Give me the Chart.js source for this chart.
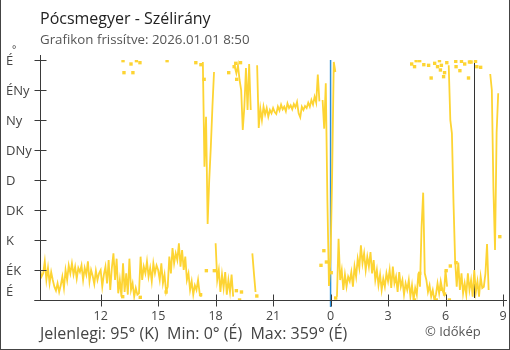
<!DOCTYPE html>
<html>
<head>
<meta charset="utf-8">
<script src="https://cdn.jsdelivr.net/npm/chart.js@4.4.1/dist/chart.umd.min.js"></script>
<style>
    html, body { margin: 0; padding: 0; background: #fff; }
    #wrap { position: relative; width: 510px; height: 350px; overflow: hidden; font-family: 'Open Sans', sans-serif; }
    #frame { position: absolute; left: 0; top: 0; width: 510px; height: 350px; box-sizing: border-box;
             border: 1px solid #444; border-top: none; pointer-events: none; }
    #chart { position: absolute; left: 0; top: 0; }
    .txt { position: absolute; white-space: pre; line-height: 1; }
    #title { left: 40px; top: 10px; font-size: 16px; color: #222; }
    #sub { left: 40px; top: 33px; font-size: 13.3px; color: #555; }
    #stats { left: 40px; top: 325px; font-size: 16px; color: #444; }
    #copy { left: 425px; top: 325px; font-size: 13px; color: #555; }
</style>
</head>
<body>
<div id="wrap">
    <canvas id="chart" width="510" height="350"></canvas>
    <div class="txt" id="title">Pócsmegyer - Szélirány</div>
    <div class="txt" id="sub">Grafikon frissítve: 2026.01.01 8:50</div>
    <div class="txt" id="stats">Jelenlegi: 95° (K)  Min: 0° (É)  Max: 359° (É)</div>
    <div class="txt" id="copy">© Időkép</div>
    <div id="frame"></div>
</div>
<script>
// szélirány, 5 percenként, fokban (8:50-től 8:50-ig)
const firstReading = '8:50';
const stepMinutes = 5;

const dirPrevMorning = [45, 35,
    40, 58, 30, 48, 25, 42, 30, 20, 14, 25, 12, 22,
    35, 18, 45, 30, 52, 40, 55, 38, 50, 32, 48, 42,
    52, 30, 48, 38, 58, 28, 45, 36, 24, 44, 30, 40];

const dirAfternoon = [
    45, 20, 38, 50, 25, 60, 15, 48, 70, 30, 62, 10,
    30, 5, 55, 12, 40, 8, 62, 15, 25, 5, 18, 8,
    10, 65, 30, 50, 40, 58, 35, 48, 28, 55, 40, 52,
    45, 30, 55, 25, 38, 12, 20, 65, 40, 78, 55, 70,
    60, 85, 50, 75, 45, 65, 30, 40, 15, 28, 8, 22,
    15, 30, 10, 5, 357, 200, 275, 114, 180, 230, 290, 342];

const dirEvening = [
    85, 30, 45, 12, 38, 18, 42, 8, 30, 12, 38, 5,
    350, 340, 352, 330, 315, 255, 290, 348, 285, 354, 285, 70,
    40, 12, 352, 258, 287, 270, 290, 278, 288, 275, 285, 280,
    288, 282, 279, 290, 284, 293, 286, 290, 283, 295, 288, 292,
    286, 294, 289, 297, 280, 274, 290, 285, 291, 288, 296, 290,
    300, 293, 305, 296, 338, 298, 52, 300, 257, 325, 150, 21];

const dirNight = [
    63, 190, 357, 342, 5, 92, 30, 45, 15, 38, 20, 35,
    28, 42, 20, 50, 35, 62, 48, 82, 55, 70, 45, 65,
    50, 72, 40, 60, 30, 45, 22, 38, 15, 32, 20, 40,
    28, 45, 18, 50, 25, 35, 12, 42, 20, 30, 8, 25,
    15, 30, 5, 22, 0, 18, 8, 40, 20, 110, 161, 40,
    30, 12, 22, 5, 15, 0, 8, 25, 10, 28, 15, 9];

const dirMorning = [
    44, 20, 352, 270, 250, 146, 60, 20, 56, 15, 40, 10,
    25, 8, 40, 15, 30, 5, 45, 12, 28, 5, 35, 18,
    20, 40, 84, 15, 339, 315, 167, 75, 251, 310, 95];

// különálló mérések (pontként)
const singleTimes = ['13:09', '13:10', '13:13', '13:35', '13:41', '13:52', '14:03', '14:04', '15:25', '15:28',
    '16:58', '17:13', '17:14', '17:24', '17:31', '17:56', '18:41', '18:58', '19:03', '19:05', '19:06',
    '19:15', '19:18', '19:21', '20:09', '23:39', '23:47', '0:02', '0:16',
    '4:14', '4:23', '4:23', '4:28', '4:39', '4:39', '4:52', '5:07', '5:15', '5:26', '5:31', '5:35',
    '5:41', '5:44', '5:47', '5:48', '5:54', '5:57', '5:57', '6:02', '6:04', '6:12', '6:15', '6:32',
    '6:33', '6:33', '6:45', '6:50', '7:00', '7:12', '7:15', '7:20', '7:34', '7:38', '7:50'];
const singleDirs = [5, 359, 341, 354, 341, 359, 356, 4, 12, 359,
    356, 8, 353, 331, 44, 44, 341, 350, 355, 14, 331,
    0, 356, 12, 6, 74, 57, 41, 3,
    354, 350, 0, 359, 359, 40, 353, 352, 333, 355, 0, 350,
    359, 345, 352, 16, 335, 341, 9, 44, 356, 0, 51, 358,
    350, 56, 344, 358, 354, 333, 357, 357, 358, 350, 349];

const dirLabels = ['É', 'ÉK', 'K', 'DK', 'D', 'DNy', 'Ny', 'ÉNy', 'É'];
const xTickHours = [12, 15, 18, 21, 0, 3, 6, 9];
const midnightMark = '0:00';
const sunriseMark = '7:28';

const yellow = '#fdd433';

// óra -> éjfélhez viszonyított óra (előző nap negatív)
const startH = (() => { const [h, m] = firstReading.split(':').map(Number); return h + m / 60; })();
const toRelHour = (str) => {
    const [h, m] = str.split(':').map(Number);
    const v = h + m / 60;
    return v >= startH ? v - 24 : v;
};

const dirs = [...dirPrevMorning, ...dirAfternoon, ...dirEvening, ...dirNight, ...dirMorning];
const t0 = startH - 24;
const mainPoints = dirs.map((d, i) => ({ x: t0 + i * stepMinutes / 60, y: d }));
const singlePoints = singleTimes.map((t, i) => ({ x: toRelHour(t), y: singleDirs[i] }));
const tickValues = xTickHours.map(h => (h > 9 ? h - 24 : h));

const isBreak = (i, j) => j < 0 || j >= dirs.length || Math.abs(dirs[j] - dirs[i]) > 180;

const axesPlugin = {
    id: 'axesPlugin',
    beforeDatasetsDraw(chart) {
        const { ctx, scales: { x, y } } = chart;
        ctx.save();
        // éjfél
        const xm = x.getPixelForValue(toRelHour(midnightMark));
        ctx.strokeStyle = '#2a8fd8';
        ctx.lineWidth = 1.5;
        ctx.beginPath();
        ctx.moveTo(xm, y.getPixelForValue(360));
        ctx.lineTo(xm, y.getPixelForValue(0) + 7);
        ctx.stroke();
        // napkelte
        const xs = Math.round(x.getPixelForValue(toRelHour(sunriseMark))) + 0.5;
        ctx.strokeStyle = '#333';
        ctx.lineWidth = 1;
        ctx.beginPath();
        ctx.moveTo(xs, y.getPixelForValue(360));
        ctx.lineTo(xs, y.getPixelForValue(0) - 2);
        ctx.stroke();
        ctx.restore();
    },
    afterDraw(chart) {
        const { ctx, scales: { x, y } } = chart;
        ctx.save();
        ctx.strokeStyle = '#3a3a3a';
        ctx.lineWidth = 1;
        const ax = Math.round(x.left) + 0.5;
        const ay = Math.round(y.bottom) + 0.5;
        ctx.beginPath();
        ctx.moveTo(ax, y.top - 5);
        ctx.lineTo(ax, ay);
        ctx.moveTo(ax - 6, ay);
        ctx.lineTo(507, ay);
        y.ticks.forEach(t => {
            const py = Math.round(y.getPixelForValue(t.value)) + 0.5;
            ctx.moveTo(ax - 6, py);
            ctx.lineTo(ax + 6, py);
        });
        x.ticks.forEach(t => {
            const px = Math.round(x.getPixelForValue(t.value)) + 0.5;
            ctx.moveTo(px, ay - 6);
            ctx.lineTo(px, ay + 6);
        });
        ctx.stroke();

        ctx.fillStyle = '#444';
        ctx.font = '13px "Open Sans"';
        ctx.textAlign = 'left';
        ctx.textBaseline = 'middle';
        y.ticks.forEach((t, i) => {
            const py = y.getPixelForValue(t.value) + (t.value === 0 ? -8 : 1);
            ctx.fillText(dirLabels[i], 6, py);
        });
        ctx.textAlign = 'center';
        ctx.font = '12.5px "Open Sans"';
        x.ticks.forEach((t, i) => {
            ctx.fillText(String(xTickHours[i]), x.getPixelForValue(t.value), ay + 16);
        });
        ctx.textAlign = 'left';
        ctx.font = '10px "Open Sans"';
        ctx.fillText('°', 12, 50);
        ctx.restore();
    }
};

new Chart(document.getElementById('chart'), {
    type: 'line',
    data: {
        datasets: [{
            data: mainPoints,
            borderColor: yellow,
            borderWidth: 1.8,
            pointStyle: 'rect',
            pointBackgroundColor: yellow,
            pointBorderWidth: 0,
            pointRadius: c => (isBreak(c.dataIndex, c.dataIndex - 1) && isBreak(c.dataIndex, c.dataIndex + 1) ? 2.4 : 0),
            tension: 0,
            segment: {
                borderColor: s => (Math.abs(s.p0.parsed.y - s.p1.parsed.y) > 180 ? 'rgba(0,0,0,0)' : undefined),
            },
        }, {
            data: singlePoints,
            showLine: false,
            pointStyle: 'rect',
            pointBackgroundColor: yellow,
            pointBorderWidth: 0,
            pointRadius: 2.4,
        }],
    },
    options: {
        responsive: false,
        animation: false,
        devicePixelRatio: 1,
        layout: { padding: { top: 60, right: 7, left: 0, bottom: 0 } },
        scales: {
            x: {
                type: 'linear',
                min: t0,
                max: 9,
                afterBuildTicks: s => { s.ticks = tickValues.map(v => ({ value: v })); },
                afterFit: s => { s.height = 50; },
                grid: { display: false },
                border: { display: false },
                ticks: { display: false },
            },
            y: {
                min: 0,
                max: 360,
                afterBuildTicks: s => { s.ticks = dirLabels.map((l, i) => ({ value: i * 45 })); },
                afterFit: s => { s.width = 40; },
                grid: { display: false },
                border: { display: false },
                ticks: { display: false },
            },
        },
        plugins: {
            legend: { display: false },
            tooltip: { enabled: false },
        },
    },
    plugins: [axesPlugin],
});
</script>
</body>
</html>
